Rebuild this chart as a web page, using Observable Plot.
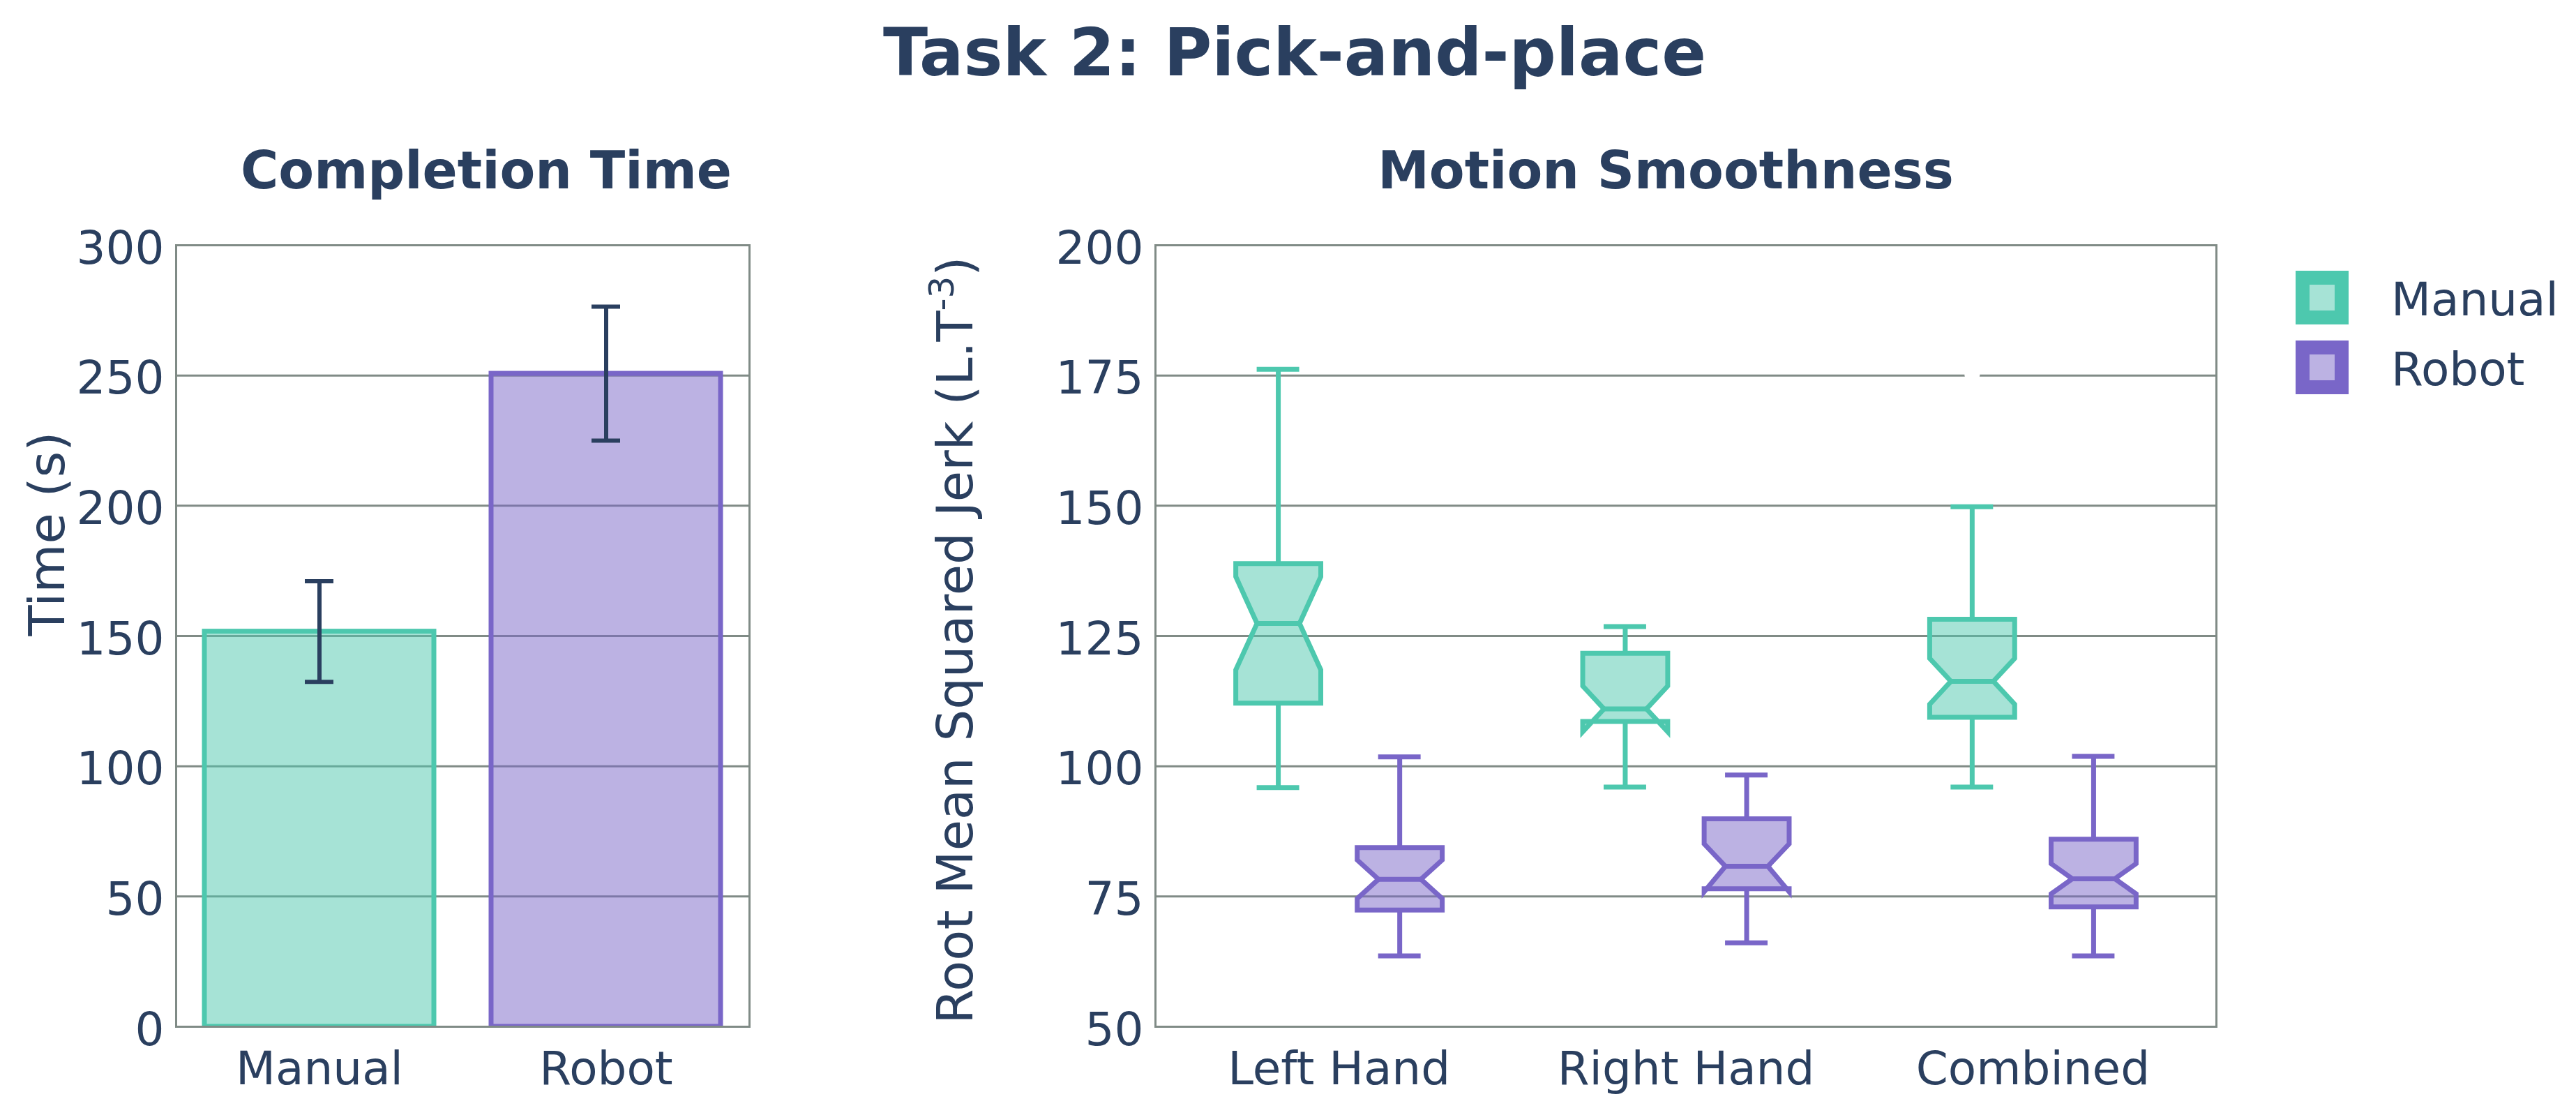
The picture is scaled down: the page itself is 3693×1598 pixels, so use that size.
<!DOCTYPE html>
<html>
<head>
<meta charset="utf-8">
<script src="https://cdn.jsdelivr.net/npm/d3@7"></script>
<script src="https://cdn.jsdelivr.net/npm/@observablehq/plot@0.6"></script>
<style>
  body { margin: 0; background: #ffffff; }
  #root { position: relative; width: 3693px; height: 1598px; overflow: hidden; background: #ffffff;
          font-family: "DejaVu Sans"; color: #2a3f5f; }
  .abs { position: absolute; white-space: nowrap; line-height: normal; }
</style>
</head>
<body>
<div id="root"></div>
<script>
// ---------- data ----------
const figTitle = "Task 2: Pick-and-place";
const leftTitle = "Completion Time";
const rightTitle = "Motion Smoothness";
const timeLabel = "Time (s)";
const jerkLabel = ["Root Mean Squared Jerk (L.T", "-3", ")"];

const groups = ["Manual", "Robot"];
const timeMean = [151.7, 250.7];
const timeErr = [19.3, 25.7];
const timeTicks = [0, 50, 100, 150, 200, 250, 300];

const conditions = ["Left Hand", "Right Hand", "Combined"];
const jerkTicks = [50, 75, 100, 125, 150, 175, 200];

const manualLow       = [95.9, 96.0, 96.0];
const manualQ1        = [112.1, 108.6, 109.4];
const manualNotchLow  = [118.5, 106.6, 111.9];
const manualMedian    = [127.4, 111.0, 116.3];
const manualNotchHigh = [136.4, 115.4, 120.7];
const manualQ3        = [138.9, 121.7, 128.2];
const manualHigh      = [176.2, 126.8, 149.8];

const robotLow       = [63.6, 66.1, 63.6];
const robotQ1        = [72.4, 76.5, 73.0];
const robotNotchLow  = [74.6, 75.9, 75.5];
const robotMedian    = [78.3, 80.8, 78.4];
const robotNotchHigh = [82.0, 85.1, 81.3];
const robotQ3        = [84.4, 89.9, 86.0];
const robotHigh      = [101.8, 98.3, 101.9];

const outlierCondition = ["Combined"];
const outlierGroup = ["Manual"];
const outlierValue = [175.2];

const strokeColors = ["#4dc8ae", "#7966c8"];
const textColor = "#2a3f5f";
const gridColor = "#808b86";

// ---------- derived tables ----------
const groupOffset = 0.175;   // box centre offset within a category (category units)
const halfWidth = 0.1225;    // half box width
const notchHalf = halfWidth / 2;
const capHalf = halfWidth / 2;

const stats = {
  Manual: {low: manualLow, q1: manualQ1, nlo: manualNotchLow, median: manualMedian, nhi: manualNotchHigh, q3: manualQ3, high: manualHigh},
  Robot:  {low: robotLow,  q1: robotQ1,  nlo: robotNotchLow,  median: robotMedian,  nhi: robotNotchHigh,  q3: robotQ3,  high: robotHigh}
};
const posOf = (cond, grp) => conditions.indexOf(cond) + (grp === groups[0] ? -groupOffset : groupOffset);

const boxes = [];
groups.forEach(g => conditions.forEach((c, ci) => {
  const s = stats[g];
  boxes.push({group: g, condition: c, pos: posOf(c, g),
    low: s.low[ci], q1: s.q1[ci], nlo: s.nlo[ci], median: s.median[ci], nhi: s.nhi[ci], q3: s.q3[ci], high: s.high[ci]});
}));

// notched outline (same path order as the original renderer)
const outline = [];
boxes.forEach((b, k) => {
  const L = b.pos - halfWidth, R = b.pos + halfWidth, Lw = b.pos - notchHalf, Rw = b.pos + notchHalf;
  const pts = [[L, b.q1], [L, b.nlo], [Lw, b.median], [L, b.nhi], [L, b.q3],
               [R, b.q3], [R, b.nhi], [Rw, b.median], [R, b.nlo], [R, b.q1]];
  pts.forEach(([x, y]) => outline.push({key: k, group: b.group, x, y}));
});

const outliers = outlierValue.map((v, i) => ({group: outlierGroup[i], pos: posOf(outlierCondition[i], outlierGroup[i]), value: v}));
const barData = groups.map((g, i) => ({group: g, mean: timeMean[i], err: timeErr[i]}));

const baseStyle = {fontFamily: "DejaVu Sans", fontSize: "66px", color: textColor, background: "transparent", overflow: "visible"};

// ---------- left panel ----------
const leftChart = Plot.plot({
  width: 1300, height: 1598,
  marginLeft: 252, marginRight: 226, marginTop: 351, marginBottom: 127,
  style: baseStyle,
  x: {domain: groups, paddingInner: 0.2, paddingOuter: 0.1},
  y: {domain: [0, 300]},
  color: {domain: groups, range: strokeColors},
  marks: [
    Plot.ruleY(timeTicks, {stroke: gridColor, strokeWidth: 3}),
    Plot.barY(barData, {x: "group", y: "mean", fill: "group", fillOpacity: 0.5, stroke: "group", strokeWidth: 7, clip: true}),
    Plot.ruleX(barData, {x: "group", y1: d => d.mean - d.err, y2: d => d.mean + d.err, stroke: textColor, strokeWidth: 6}),
    Plot.tickY(barData, {x: "group", y: d => d.mean + d.err, stroke: textColor, strokeWidth: 6, insetLeft: 144, insetRight: 144}),
    Plot.tickY(barData, {x: "group", y: d => d.mean - d.err, stroke: textColor, strokeWidth: 6, insetLeft: 144, insetRight: 144}),
    Plot.axisY({ticks: timeTicks, tickSize: 0, tickPadding: 17, dy: 5, label: null}),
    Plot.axisX({tickSize: 0, tickPadding: 36, label: null}),
    Plot.text([timeLabel], {frameAnchor: "left", dx: -184, rotate: -90, fontSize: 72, fill: textColor}),
    Plot.frame({stroke: gridColor, strokeWidth: 3})
  ]
});

// ---------- right panel ----------
const rightChart = Plot.plot({
  width: 2393, height: 1598,
  marginLeft: 356, marginRight: 516, marginTop: 351, marginBottom: 127,
  style: baseStyle,
  x: {domain: [-0.529, 2.529]},
  y: {domain: [50, 200]},
  color: {domain: groups, range: strokeColors},
  marks: [
    Plot.ruleY(jerkTicks, {stroke: gridColor, strokeWidth: 3}),
    Plot.dot(outliers, {x: "pos", y: "value", r: 11, fill: "white", stroke: "none"}),
    Plot.ruleX(boxes, {x: "pos", y1: "q3", y2: "high", stroke: "group", strokeWidth: 7}),
    Plot.ruleX(boxes, {x: "pos", y1: "q1", y2: "low", stroke: "group", strokeWidth: 7}),
    Plot.ruleY(boxes, {y: "high", x1: d => d.pos - capHalf, x2: d => d.pos + capHalf, stroke: "group", strokeWidth: 7}),
    Plot.ruleY(boxes, {y: "low", x1: d => d.pos - capHalf, x2: d => d.pos + capHalf, stroke: "group", strokeWidth: 7}),
    Plot.line(outline, {x: "x", y: "y", z: "key", stroke: "group", fill: "group", fillOpacity: 0.5,
      strokeWidth: 7, curve: "linear-closed", strokeLinejoin: "miter", strokeMiterlimit: 10, strokeLinecap: "butt"}),
    Plot.ruleY(boxes, {y: "median", x1: d => d.pos - notchHalf, x2: d => d.pos + notchHalf, stroke: "group", strokeWidth: 7}),
    Plot.axisY({ticks: jerkTicks, tickSize: 0, tickPadding: 17, dy: 5, label: null}),
    Plot.axisX({ticks: conditions.map((c, i) => i), tickFormat: i => conditions[i], tickSize: 0, tickPadding: 36, label: null}),
    Plot.text([jerkLabel.join("")], {frameAnchor: "bottom-left", textAnchor: "start", dx: -263, dy: -4, rotate: -90, fontSize: 72, fill: textColor}),
    Plot.frame({stroke: gridColor, strokeWidth: 3})
  ]
});

const root = document.getElementById("root");
[[leftChart, 0], [rightChart, 1300]].forEach(([svg, left]) => {
  svg.style.position = "absolute";
  svg.style.left = left + "px";
  svg.style.top = "0px";
  svg.style.maxWidth = "none";
  root.appendChild(svg);
});

// superscript in the jerk axis title
d3.select(rightChart).selectAll("text")
  .filter(function () { return this.textContent === jerkLabel.join(""); })
  .each(function () {
    const t = d3.select(this);
    t.text(null);
    t.append("tspan").text(jerkLabel[0]);
    t.append("tspan").attr("font-size", 50).attr("dy", -27).text(jerkLabel[1]);
    t.append("tspan").attr("dy", 27).text(jerkLabel[2]);
  });

// ---------- titles ----------
function addText(txt, opts) {
  const d = document.createElement("div");
  d.className = "abs";
  d.textContent = txt;
  Object.assign(d.style, opts);
  root.appendChild(d);
  return d;
}
addText(figTitle, {left: "856px", width: "2000px", textAlign: "center", top: "21px", fontSize: "94px", fontWeight: "bold"});
addText(leftTitle, {left: "197px", width: "1000px", textAlign: "center", top: "201px", fontSize: "74px", fontWeight: "bold"});
addText(rightTitle, {left: "1888px", width: "1000px", textAlign: "center", top: "201px", fontSize: "74px", fontWeight: "bold"});

// ---------- legend ----------
groups.forEach((g, i) => {
  const sw = document.createElement("div");
  sw.className = "abs";
  const fc = d3.color(strokeColors[i]); fc.opacity = 0.5;
  Object.assign(sw.style, {left: "3291px", top: (388 + i * 100) + "px", width: "76px", height: "77px",
    boxSizing: "border-box", border: "20px solid " + strokeColors[i], background: fc.formatRgb()});
  root.appendChild(sw);
  addText(g, {left: "3428px", top: (391 + i * 100) + "px", fontSize: "66px"});
});
</script>
</body>
</html>
